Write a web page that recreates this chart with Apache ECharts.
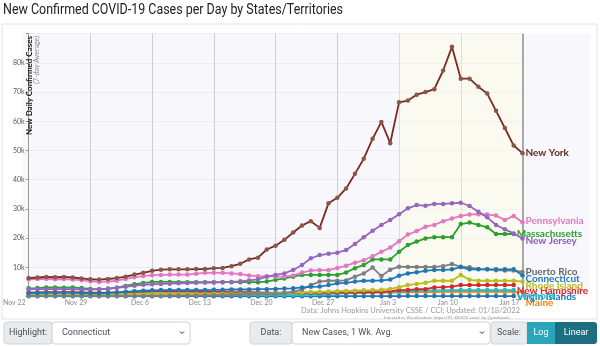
<!DOCTYPE html>
<html><head><meta charset="utf-8">
<script src="https://cdn.jsdelivr.net/npm/echarts@6/dist/echarts.min.js"></script>
<style>html,body{margin:0;padding:0;background:#fff}#c{width:600px;height:346px}</style>
</head><body><div id="c"></div><script>
// categories (one per day)
const dates = ['Nov 22','Nov 23','Nov 24','Nov 25','Nov 26','Nov 27','Nov 28','Nov 29','Nov 30','Dec 1','Dec 2','Dec 3','Dec 4','Dec 5',
 'Dec 6','Dec 7','Dec 8','Dec 9','Dec 10','Dec 11','Dec 12','Dec 13','Dec 14','Dec 15','Dec 16','Dec 17','Dec 18','Dec 19',
 'Dec 20','Dec 21','Dec 22','Dec 23','Dec 24','Dec 25','Dec 26','Dec 27','Dec 28','Dec 29','Dec 30','Dec 31','Jan 1','Jan 2',
 'Jan 3','Jan 4','Jan 5','Jan 6','Jan 7','Jan 8','Jan 9','Jan 10','Jan 11','Jan 12','Jan 13','Jan 14','Jan 15','Jan 16','Jan 17'];
// values in thousands of cases (7-day average)
const newYork = [6.3,6.5,6.7,6.6,6.7,6.5,6.2,5.9,5.8,6.0,6.3,6.8,7.5,8.1,8.8,9.2,9.3,9.3,9.3,9.4,9.4,9.7,9.8,10.4,11.2,12.7,13.3,16.1,17.4,19.4,21.9,24.3,25.8,23.5,31.9,33.8,37.0,42.0,47.2,54.0,59.8,52.5,66.5,67.1,69.1,70.0,71.0,77.4,85.5,74.6,74.6,71.8,69.5,63.6,57.7,51.7,49.1];
const pennsylvania = [5.9,6.0,6.0,5.9,6.0,5.8,5.6,5.2,5.0,5.1,5.4,6.0,6.6,7.0,7.3,7.4,7.5,7.5,7.5,7.8,8.1,8.1,8.1,7.9,7.7,7.2,6.9,6.9,6.8,6.8,7.2,8.2,8.9,9.0,9.0,9.8,10.5,11.6,12.4,13.8,15.3,16.8,18.9,21.2,22.4,23.9,24.5,25.8,26.7,27.6,28.1,28.2,28.1,27.7,26.2,27.6,25.4];
const massachusetts = [2.8,2.9,3.1,3.1,3.0,3.1,2.9,2.6,2.5,2.6,3.0,3.6,4.2,4.6,5.0,5.0,5.0,4.9,4.9,4.9,4.9,4.9,4.9,4.9,4.9,4.9,4.9,5.1,5.7,6.2,6.8,7.4,7.4,7.4,7.4,7.4,8.2,9.7,10.8,12.7,12.7,12.7,15.3,17.6,18.8,19.9,20.3,20.3,20.3,24.8,25.3,24.5,23.7,21.4,21.4,21.4];
const newJersey = [2.5,2.5,2.5,2.6,2.5,2.5,2.4,2.4,2.5,2.7,3.0,3.3,3.7,4.0,4.2,4.3,4.4,4.5,4.6,4.7,4.8,4.8,4.9,5.0,5.2,5.5,5.9,6.8,7.4,7.9,9.1,10.8,13.1,14.2,14.6,15.0,15.9,18.0,20.3,22.5,24.5,26.2,28.2,30.2,31.3,31.1,31.7,31.7,31.9,32.1,31.0,29.0,27.1,24.5,23.0,21.6,19.9];
const puertoRico = [0.2,0.2,0.2,0.2,0.2,0.2,0.2,0.2,0.2,0.2,0.2,0.2,0.2,0.2,0.2,0.2,0.3,0.3,0.3,0.3,0.4,0.4,0.5,0.6,0.7,0.8,0.9,1.0,0.9,1.2,1.6,2.4,3.9,5.1,5.4,5.4,5.5,6.8,7.9,9.9,7.0,9.2,10.2,10.1,10.1,10.1,10.1,10.4,11.1,10.2,10.0,9.4,9.3,9.0,8.9,8.9,8.4];
const connecticut = [1.2,1.2,1.3,1.3,1.3,1.3,1.2,1.1,1.1,1.2,1.4,1.6,1.8,2.0,2.1,2.2,2.2,2.2,2.2,2.2,2.2,2.3,2.3,2.4,2.4,2.4,2.5,2.5,2.6,2.7,2.8,3.1,3.3,3.4,3.9,4.5,4.7,5.1,5.4,5.4,5.5,5.8,7.1,7.9,8.3,8.8,9.1,9.1,9.3,10.1,9.3,9.3,9.3,9.3,9.3,9.3,7.2];
const rhodeIsland = [0.7,0.7,0.7,0.7,0.7,0.7,0.7,0.6,0.6,0.6,0.7,0.8,0.8,0.9,0.9,0.9,0.9,0.9,0.9,0.9,0.9,1.0,1.0,1.0,1.0,1.0,1.1,1.1,1.2,1.2,1.3,1.4,1.5,1.6,1.7,1.8,1.9,2.0,2.1,2.2,2.3,2.6,3.2,3.9,4.3,4.7,5.4,5.4,5.4,7.4,5.7,5.4,5.4,5.4,5.4,5.4,5.1];
const newHampshire = [1.4,1.4,1.5,1.5,1.5,1.5,1.4,1.3,1.3,1.3,1.4,1.5,1.6,1.6,1.7,1.7,1.7,1.7,1.7,1.6,1.6,1.6,1.6,1.5,1.5,1.5,1.4,1.3,1.3,1.3,1.3,1.3,1.3,1.3,1.3,1.4,1.4,1.4,1.5,1.5,1.6,1.8,2.2,2.2,2.5,2.5,3.1,3.2,3.4,3.9,3.9,3.9,3.9,3.9,3.9,3.9];
const vermont = [0.4,0.4,0.4,0.4,0.4,0.4,0.4,0.4,0.4,0.4,0.4,0.5,0.5,0.5,0.5,0.5,0.5,0.5,0.5,0.5,0.5,0.5,0.5,0.5,0.5,0.5,0.5,0.5,0.5,0.5,0.5,0.6,0.7,0.8,0.9,1.0,1.1,1.2,1.3,1.4,1.5,1.6,1.7,1.8,1.9,2.0,2.1,2.1,2.2,2.2,2.2,2.2,2.2,2.2,2.2,2.2];
const virginIslands = [0.05,0.05,0.05,0.05,0.05,0.05,0.05,0.05,0.05,0.05,0.05,0.05,0.05,0.05,0.05,0.05,0.05,0.05,0.05,0.05,0.05,0.05,0.05,0.05,0.05,0.05,0.05,0.05,0.05,0.05,0.06,0.06,0.07,0.08,0.08,0.09,0.1,0.1,0.1,0.1,0.12,0.12,0.12,0.13,0.13,0.13,0.14,0.14,0.14,0.14,0.14,0.14,0.14,0.13,0.13,0.13];
const maine = [0.9,0.9,0.9,0.9,0.9,0.9,0.9,0.8,0.8,0.8,0.9,0.9,1.0,1.0,1.0,1.0,1.0,1.0,1.0,1.0,1.0,1.0,1.0,1.0,1.0,1.0,1.0,1.0,1.0,1.0,1.1,1.1,1.1,1.1,1.2,1.2,1.2,1.2,1.2,1.3,1.3,1.3,1.4,1.4,1.5,1.5,1.5,1.6,1.6,1.6,1.6,1.6,1.6,1.6,1.6,1.6,1.6];
const yTickLabels = ['', '10k','20k','30k','40k','50k','60k','70k','80k',''];

const seriesDefs = [
  {name:'Maine', data:maine, color:'#ff7f0e', lbl:'#ff7f0e', off:[0,11]},
  {name:'Virgin Islands', data:virginIslands, color:'#1f77b4', lbl:'#1f77b4', off:[0,1]},
  {name:'Vermont', data:vermont, color:'#17becf', lbl:'#17becf', off:[0,6]},
  {name:'New Hampshire', data:newHampshire, color:'#d62728', lbl:'#d62728', off:[0,6]},
  {name:'Rhode Island', data:rhodeIsland, color:'#bcbd22', lbl:'#bcbd22', off:[0,4]},
  {name:'Puerto Rico', data:puertoRico, color:'#7f7f7f', lbl:'#666666', off:[0,0]},
  {name:'Massachusetts', data:massachusetts, color:'#2ca02c', lbl:'#2ca02c', off:[0,0]},
  {name:'Pennsylvania', data:pennsylvania, color:'#e377c2', lbl:'#e377c2', off:[0,-2]},
  {name:'New Jersey', data:newJersey, color:'#9467bd', lbl:'#8a5cc0', off:[0,2]},
  {name:'Connecticut', data:connecticut, color:'#1f77b4', lbl:'#1f77b4', off:[0,3]},
  {name:'New York', data:newYork, color:'#7a2a1e', lbl:'#5e2a22', off:[0,0], item:'#8c564b'}
];

const series = seriesDefs.map((s,i)=>({
  name:s.name, type:'line', data:s.data, symbol:'circle', symbolSize:4.5,
  lineStyle:{color:s.color, width:1.8}, itemStyle:{color:s.item||s.color},
  z: 3+i, animation:false,
  endLabel:{show:true, formatter:s.name, color:s.lbl, fontWeight:'bold', fontSize:10,
    fontFamily:'Lato', distance:3, offset:s.off}
}));
series.push({
  name:'frame', type:'line', data:[], silent:true,
  markArea:{silent:true, itemStyle:{color:'rgba(255,255,215,0.3)'}, data:[[{xAxis:'Jan 3'},{xAxis:'Jan 17'}]]},
  markLine:{silent:true, symbol:'none', label:{show:false}, lineStyle:{color:'#a8a8a8', width:2, type:'solid'}, data:[{xAxis:'Jan 17'}]}
});

const chart = echarts.init(document.getElementById('c'), null, {renderer:'canvas'});
function addon(x,w,text){
  return {type:'group', children:[
    {type:'rect', shape:{x:x,y:322,width:w,height:22,r:3}, style:{fill:'#e9ecef', stroke:'#ced4da', lineWidth:1}},
    {type:'text', style:{text:text, x:x+w/2, y:333, align:'center', verticalAlign:'middle', fill:'#495057', font:'9px Roboto'}}
  ]};
}
function select(x,w,text){
  return {type:'group', children:[
    {type:'rect', shape:{x:x,y:322,width:w,height:22,r:3}, style:{fill:'#fff', stroke:'#ced4da', lineWidth:1}},
    {type:'text', style:{text:text, x:x+10, y:333, align:'left', verticalAlign:'middle', fill:'#495057', font:'9px Roboto'}},
    {type:'polyline', shape:{points:[[x+w-10,331.5],[x+w-8,333.5],[x+w-6,331.5]]}, style:{stroke:'#343a40', lineWidth:1, fill:null}}
  ]};
}
chart.setOption({
  animation:false,
  backgroundColor:'#fff',
  grid:{left:23, right:77.5, top:33.7, bottom:49.5, containLabel:false},
  xAxis:{type:'category', data:dates, boundaryGap:false,
    axisLine:{show:false}, axisTick:{show:false},
    axisLabel:{interval:6, align:'right', fontSize:7, color:'#8a8a8a', margin:3, padding:[0,3,0,0], fontFamily:'Lato'},
    splitLine:{show:true, interval:6, lineStyle:{color:'#cfcfcf', width:1}}},
  yAxis:{type:'value', min:0, max:90, interval:10,
    axisLine:{show:true, lineStyle:{color:'#999', width:1}},
    axisTick:{show:true, length:3, lineStyle:{color:'#999'}},
    axisLabel:{fontSize:7, color:'#555', margin:4, fontFamily:'Lato', formatter:(v)=>yTickLabels[v/10]},
    splitLine:{show:true, lineStyle:{color:'#ececf2', width:1}}},
  graphic:[
    {type:'rect', z:-10, shape:{x:2,y:24,width:595,height:295}, style:{fill:'#fff', stroke:'#e2e2e2', lineWidth:1}},
    {type:'rect', z:-9, shape:{x:23,y:33.7,width:567,height:262.8}, style:{fill:'#f8f8fc'}},
    {type:'text', z:50, x:3, y:10.5, scaleX:0.83, style:{text:'New Confirmed COVID-19 Cases per Day by States/Territories', align:'left', verticalAlign:'middle', fill:'#222', font:'15px Roboto'}},
    {type:'text', z:50, rotation:Math.PI/2, x:29, y:36, style:{text:'New Daily Confirmed Cases', align:'right', verticalAlign:'middle', fill:'#111', font:'bold 8px Lato'}},
    {type:'text', z:50, rotation:Math.PI/2, x:37, y:36, style:{text:'(7-day Average)', align:'right', verticalAlign:'middle', fill:'#888', font:'7px Lato'}},
    {type:'text', z:50, x:520, y:311, style:{text:'Data: Johns Hopkins University CSSE / CCI; Updated: 01/18/2022', align:'right', verticalAlign:'middle', fill:'#9a9a9a', font:'7.5px Lato'}},
    {type:'text', z:50, x:512, y:317.5, style:{text:'Interactive Visualization: https://91-DIVOC.com/ by @profwade_', align:'right', verticalAlign:'middle', fill:'#9a9a9a', font:'4.5px Lato'}},
    addon(4,48,'Highlight:'),
    select(52,138,'Connecticut'),
    addon(250,42,'Data:'),
    select(292,198,'New Cases, 1 Wk. Avg.'),
    addon(491,36,'Scale:'),
    {type:'rect', shape:{x:527,y:322,width:28,height:22}, style:{fill:'#2ba5b9'}},
    {type:'text', style:{text:'Log', x:541, y:333, align:'center', verticalAlign:'middle', fill:'#fff', font:'9px Roboto'}},
    {type:'rect', shape:{x:555,y:322,width:42,height:22,r:[0,3,3,0]}, style:{fill:'#1d6f7f'}},
    {type:'text', style:{text:'Linear', x:576, y:333, align:'center', verticalAlign:'middle', fill:'#fff', font:'9px Roboto'}}
  ],
  series:series
});
</script></body></html>
